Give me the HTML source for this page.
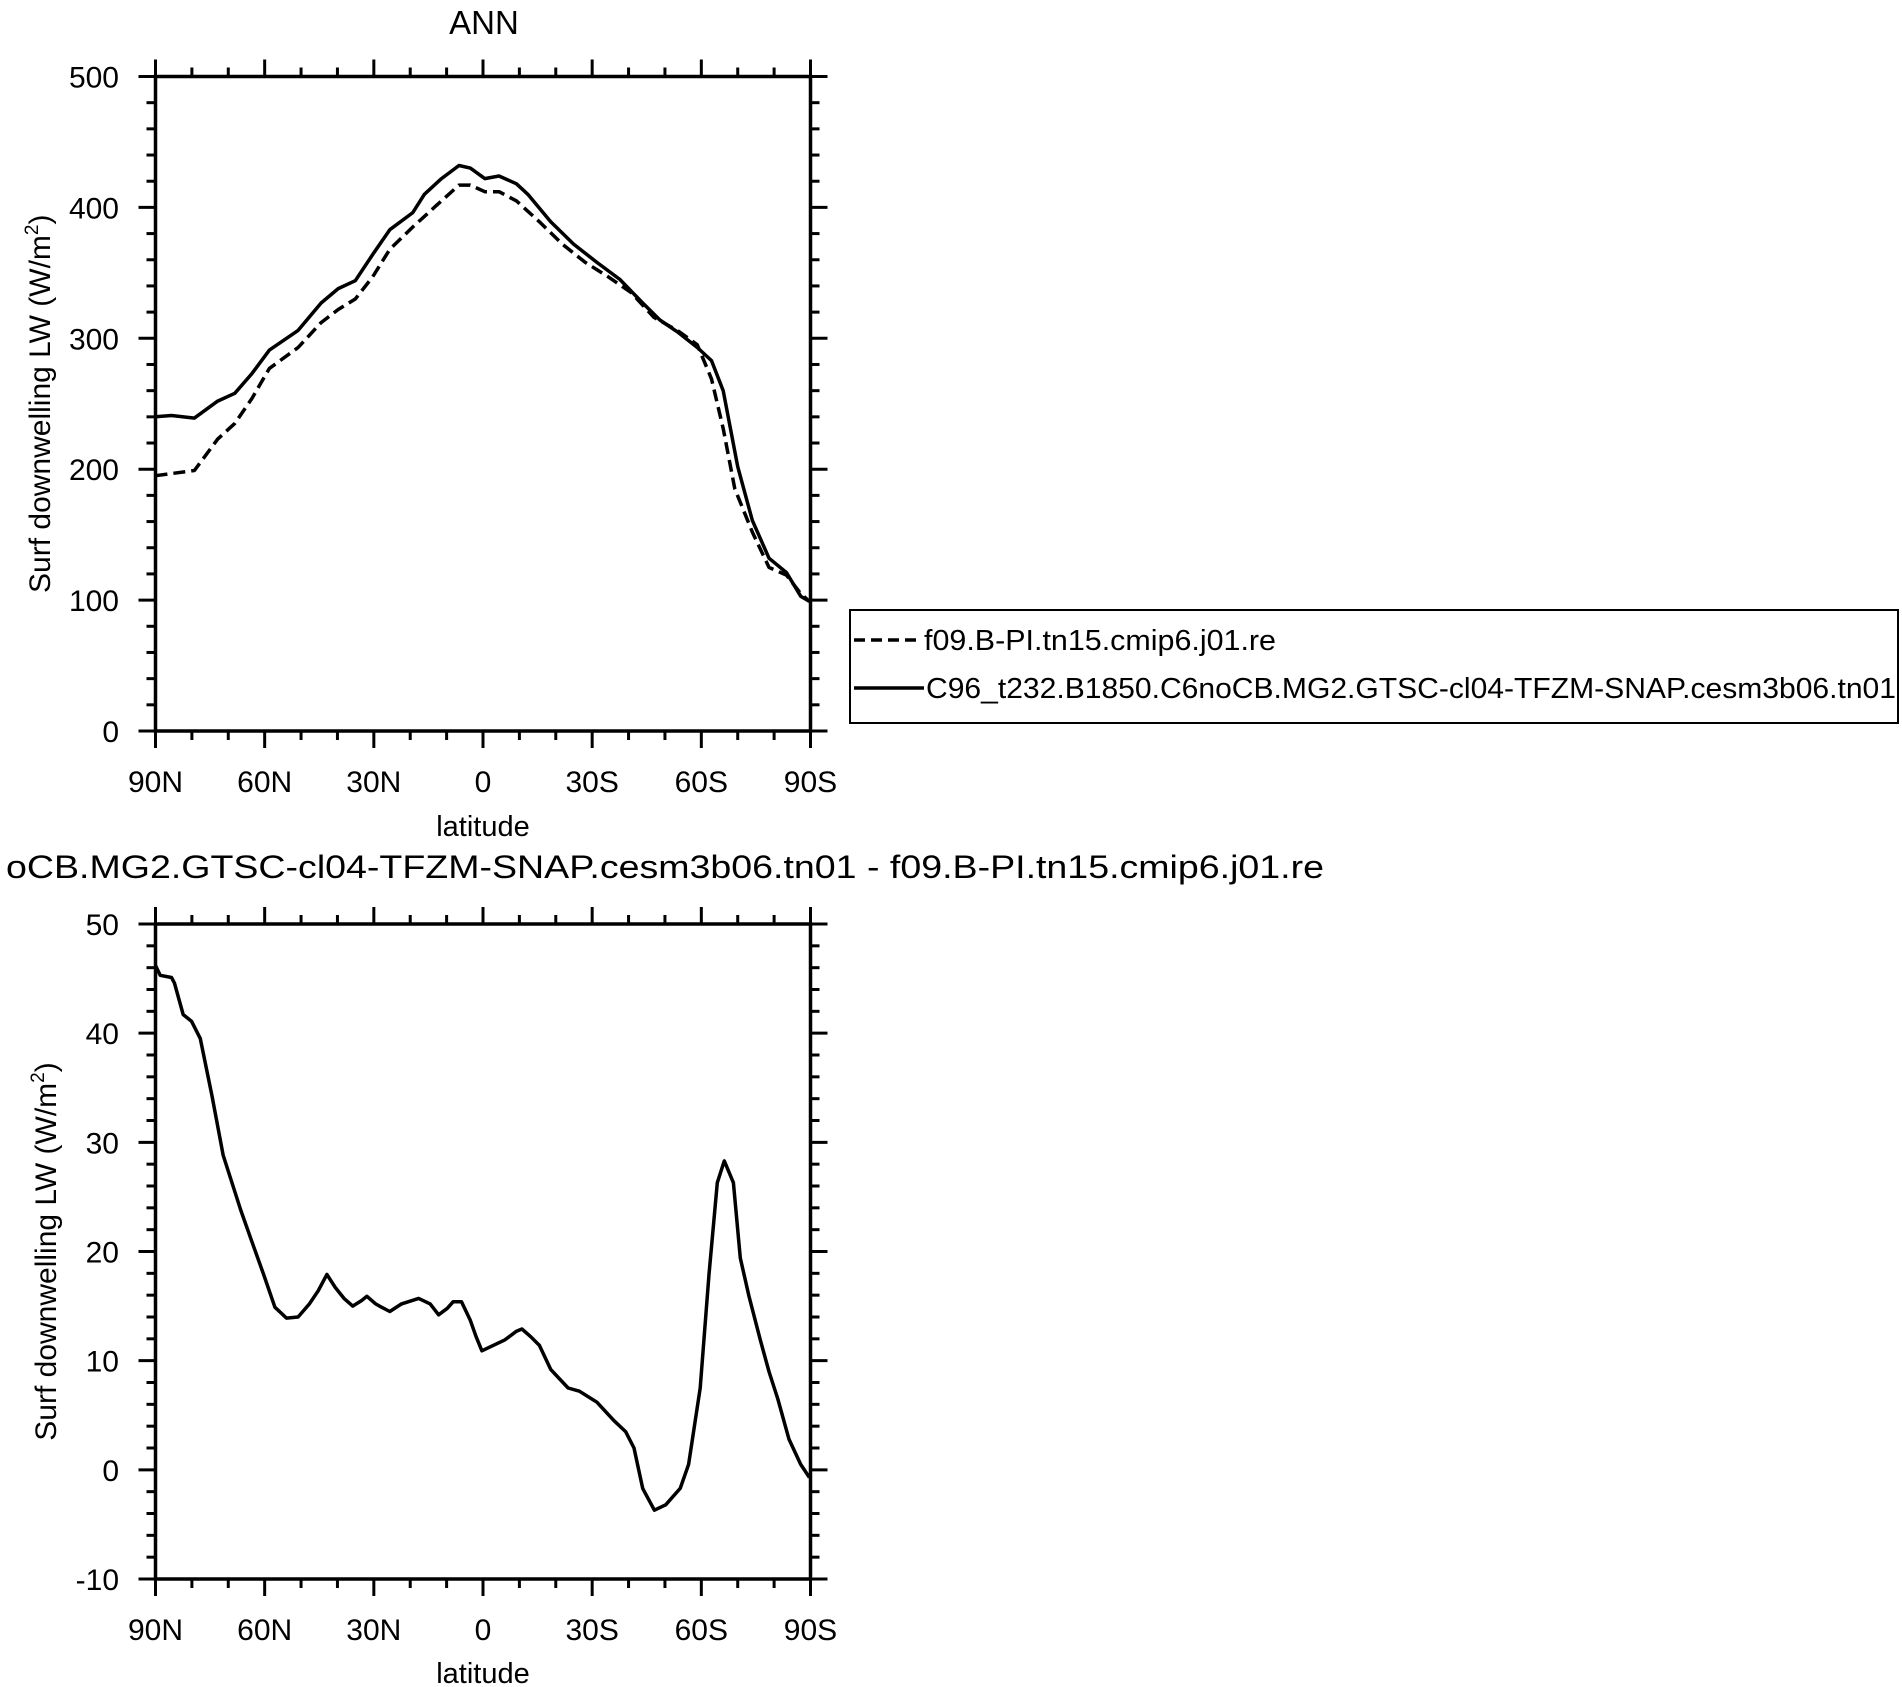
<!DOCTYPE html>
<html><head><meta charset="utf-8">
<style>
html,body{margin:0;padding:0;background:#fff;}
svg{display:block;font-family:"Liberation Sans",Arial,sans-serif;}
</style></head>
<body>
<svg id="fig" width="1902" height="1687" viewBox="0 0 1902 1687" xmlns="http://www.w3.org/2000/svg">
<text x="484" y="34" font-size="33" text-anchor="middle">ANN</text>
<text x="6" y="878" font-size="32" textLength="1318" lengthAdjust="spacingAndGlyphs">oCB.MG2.GTSC-cl04-TFZM-SNAP.cesm3b06.tn01 - f09.B-PI.tn15.cmip6.j01.re</text>
<g id="top"></g>
<g id="bot"></g>
<g>
<rect x="850" y="610" width="1048" height="113" fill="#fff" stroke="#000" stroke-width="2"/>
<line x1="854" y1="640" x2="920" y2="640" stroke="#000" stroke-width="3.5" stroke-dasharray="11,6"/>
<text x="924" y="650" font-size="29" textLength="352" lengthAdjust="spacingAndGlyphs">f09.B-PI.tn15.cmip6.j01.re</text>
<line x1="854" y1="688" x2="924" y2="688" stroke="#000" stroke-width="3.5"/>
<text x="926" y="698" font-size="29" textLength="970" lengthAdjust="spacingAndGlyphs">C96_t232.B1850.C6noCB.MG2.GTSC-cl04-TFZM-SNAP.cesm3b06.tn01</text>
</g>
</svg>
<script>
// Top plot data (latitude, positive = N)
const topLatCtl = [90,85.6,79.3,72.9,68.2,63.5,58.7,50.8,44.5,39.8,35.1,30.3,25.6,19.3,16.1,11.4,6.6,3.5,-0.5,-4.4,-9.2,-12.3,-18.6,-24.9,-31.3,-37.6,-43.9,-48.6,-53.4,-58.9,-62.8,-66,-70,-74,-78.6,-83.4,-87.3,-89.7];
const topValCtl = [240,241,239,252,258,273,291,306,327,338,344,364,383,396,410,422,432,430,422,424,418,410,389,372,358,345,327,314,305,293,283,260,202,161,132,121,103,99];
const topLatTest = [90,79.3,72.9,68.2,63.5,58.7,50.8,44.5,39.8,35.1,30.3,25.6,19.3,13,6.6,3.5,-0.5,-4.4,-9.2,-15.5,-21.8,-28.1,-34.4,-40.7,-47,-53.4,-58.9,-62.8,-66,-69.2,-74,-78.6,-83.4,-87.3,-89.7];
const topValTest = [195,199,223,235,254,277,293,312,322,330,347,368,385,401,417,417,412,412,405,389,372,358,347,335,316,306,295,269,231,185,152,125,119,105,99];
const topYTicks = [0,100,200,300,400,500];
// Bottom plot (difference)
const botLat = [90,88.7,85.6,84.8,82.4,80.1,77.7,74.5,71.4,66.6,63.5,60.3,57.2,54.0,50.8,47.7,45.3,42.9,40.6,38.2,35.8,33.4,31.9,29.5,27.9,25.6,22.4,17.7,14.5,12.2,9.8,8.2,5.9,3.5,1.9,0.3,-2.8,-6.0,-9.2,-10.7,-13.1,-15.5,-18.6,-23.4,-26.5,-31.3,-36.0,-39.2,-41.5,-43.9,-47.1,-50.2,-54.2,-56.5,-59.7,-62.1,-64.4,-66.3,-68.8,-70.7,-73.1,-76.2,-78.6,-81.0,-84.1,-87.3,-89.7];
const botVal = [46.2,45.3,45.1,44.6,41.7,41.1,39.5,34.3,28.8,23.8,20.9,17.9,14.9,13.9,14.0,15.2,16.4,17.9,16.7,15.7,15.0,15.5,15.9,15.2,14.9,14.5,15.2,15.7,15.2,14.2,14.8,15.4,15.4,13.7,12.2,10.9,11.4,11.9,12.7,12.9,12.2,11.4,9.2,7.5,7.2,6.2,4.5,3.5,2.0,-1.7,-3.7,-3.2,-1.7,0.5,7.5,17.9,26.3,28.3,26.3,19.4,15.9,11.9,9.0,6.5,2.8,0.5,-0.7];
const botYTicks = [-10,0,10,20,30,40,50];
const xTickLat = [90,60,30,0,-30,-60,-90];
const xTickLabels = ["90N","60N","30N","0","30S","60S","90S"];

const NS="http://www.w3.org/2000/svg";
function mk(tag, attrs, parent){const e=document.createElementNS(NS,tag);for(const k in attrs)e.setAttribute(k,attrs[k]);parent.appendChild(e);return e;}

function drawPanel(g, cfg){
  const L=155.5,R=810.5,T=cfg.top,B=cfg.bottom;
  const xs = lat => L + (90-lat)/180*(R-L);
  const ys = v => B - (v-cfg.ymin)/(cfg.ymax-cfg.ymin)*(B-T);
  const clip = mk('clipPath',{id:cfg.id+'-clip'},g);
  mk('rect',{x:L-2,y:T,width:R-L+4,height:B-T+4},clip);
  for(let lat=90;lat>=-90;lat-=10){
    const major = lat%30===0, len = major?17:9;
    const x=xs(lat);
    const t1=mk('line',{x1:x,y1:B,x2:x,y2:B+len,stroke:'#000','stroke-width':3},g);
    
    
    const t2=mk('line',{x1:x,y1:T,x2:x,y2:T-len,stroke:'#000','stroke-width':3},g);
    
    
  }
  xTickLat.forEach((lat,i)=>{
    const t=mk('text',{x:xs(lat),y:cfg.xlabY,'font-size':30,'text-anchor':'middle'},g);
    t.textContent=xTickLabels[i];
    
    
  });
  const step=cfg.ystep/5;
  for(let v=cfg.ymin; v<=cfg.ymax+1e-9; v+=step){
    const vv=Math.round(v*1000)/1000;
    const major = cfg.yticks.some(t=>Math.abs(t-vv)<1e-6), len=major?17:9;
    const y=ys(vv);
    const a=mk('line',{x1:L,y1:y,x2:L-len,y2:y,stroke:'#000','stroke-width':3},g);
    
    
    const b=mk('line',{x1:R,y1:y,x2:R+len,y2:y,stroke:'#000','stroke-width':3},g);
    
    
  }
  cfg.yticks.forEach(v=>{
    const t=mk('text',{x:119,y:ys(v)+11,'font-size':30,'text-anchor':'end'},g);
    t.textContent=String(v);
    
    
  });
  const fr=mk('rect',{x:L,y:T,width:R-L,height:B-T,fill:'none',stroke:'#000','stroke-width':3.5},g);
  
  
  const xt=mk('text',{x:(L+R)/2,y:cfg.xtitleY,'font-size':29,'text-anchor':'middle'},g);
  xt.textContent='latitude';
  
  
  const cy=(T+B)/2, cx=cfg.ytitleX;
  const yt=mk('text',{x:cx,y:cy,'font-size':30,'text-anchor':'middle',transform:`rotate(-90 ${cx} ${cy})`},g);
  yt.appendChild(document.createTextNode('Surf downwelling LW (W/m'));
  const sup=mk('tspan',{'font-size':19,dy:-12},yt); sup.textContent='2';
  const cl=mk('tspan',{dy:12},yt); cl.textContent=')';
  
  
  cfg.series.forEach(s=>{
    const d=s.lat.map((la,i)=>(i?'L':'M')+xs(la).toFixed(1)+','+ys(s.val[i]).toFixed(1)).join(' ');
    const attrs={d:d,fill:'none',stroke:'#000','stroke-width':3.5,'stroke-linejoin':'round','clip-path':`url(#${cfg.id}-clip)`};
    if(s.dash) attrs['stroke-dasharray']=s.dash;
    const p=mk('path',attrs,g);
    
    
  });
}
drawPanel(document.getElementById('top'),{id:'top',top:76.5,bottom:731,ymin:0,ymax:500,ystep:100,yticks:topYTicks,xlabY:792,xtitleY:836,ytitleX:50,
  series:[{lat:topLatTest,val:topValTest,dash:'12,6',name:'line-f09-test'},{lat:topLatCtl,val:topValCtl,name:'line-c96-control'}]});
drawPanel(document.getElementById('bot'),{id:'bot',top:924,bottom:1579,ymin:-10,ymax:50,ystep:10,yticks:botYTicks,xlabY:1640,xtitleY:1683,ytitleX:56,
  series:[{lat:botLat,val:botVal,name:'line-difference'}]});
</script>
</body></html>
